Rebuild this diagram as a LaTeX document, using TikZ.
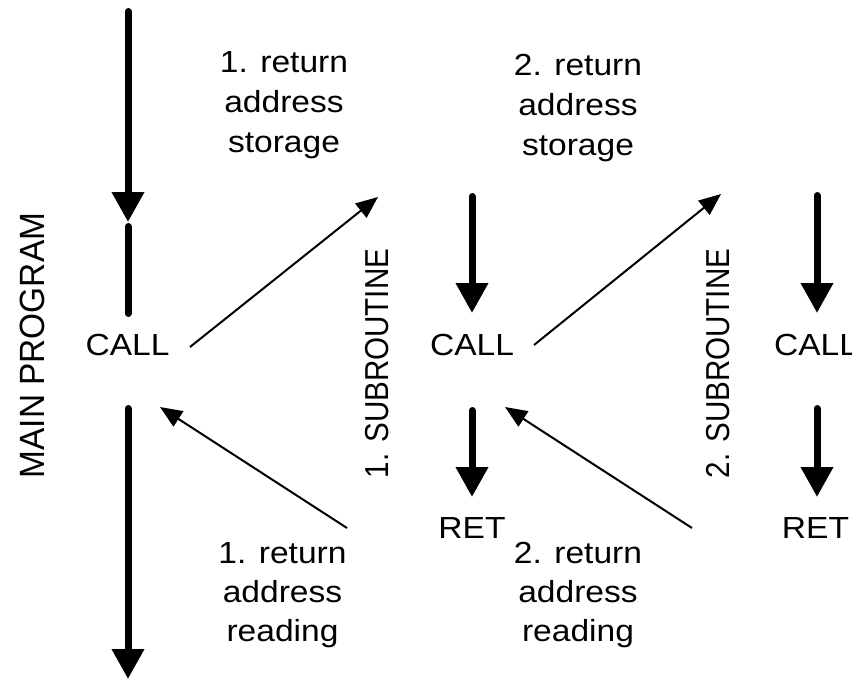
\documentclass[tikz,border=0pt]{standalone}
\usepackage{fontspec}
\setmainfont{Liberation Sans}
\usetikzlibrary{arrows.meta}
\begin{document}
\begin{tikzpicture}[x=1pt,y=-1pt,
  lbl/.style={inner sep=0pt, font=\fontsize{30.5}{40}\selectfont, xscale=1.1, anchor=base},
  note/.style={lbl, align=center},
  flow/.style={line width=7pt, line cap=round, -{Triangle[width=31pt,length=30pt]}},
  bar/.style={line width=7pt, line cap=round},
  link/.style={line width=2pt, -{Triangle[width=18pt,length=22pt]}},
]
\useasboundingbox[fill=white] (0,0) rectangle (852,680);

% vertical labels
\node[inner sep=0pt, font=\fontsize{33.4}{40}\selectfont, xscale=1.05, rotate=90] (main) at (32.5,345.5) {MAIN PROGRAM};
\node[inner sep=0pt, font=\fontsize{29.6}{40}\selectfont, xscale=1.12, rotate=90] (sub1) at (377,363.5) {1. SUBROUTINE};
\node[inner sep=0pt, font=\fontsize{29.6}{40}\selectfont, xscale=1.12, rotate=90] (sub2) at (718.5,363.5) {2. SUBROUTINE};

% instruction labels
\node[lbl] (call1) at (127.5,355) {CALL};
\node[lbl] (call2) at (472,355) {CALL};
\node[lbl] (call3) at (816,355) {CALL};
\node[lbl] (ret1) at (472,538) {RET};
\node[lbl] (ret2) at (815.5,538) {RET};

% explanatory notes
\node[note] (st1) at (284,152) {1. return\\address\\storage};
\node[note] (st2) at (578,155) {2. return\\address\\storage};
\node[note, font=\fontsize{30.5}{39}\selectfont] (rd1) at (282.5,641) {1. return\\address\\reading};
\node[note, font=\fontsize{30.5}{39}\selectfont] (rd2) at (578,641) {2. return\\address\\reading};

% flow of the main program
\coordinate (m0) at (128,11.5);
\coordinate (m1) at (128,222);
\coordinate (m2) at (128,226.5);
\coordinate (m3) at (128,313.5);
\coordinate (m4) at (128,408.5);
\coordinate (m5) at (128,679);
\draw[flow] (m0) -- (m1);
\draw[bar] (m2) -- (m3);
\draw[flow] (m4) -- (m5);

% flow of subroutine 1
\coordinate (a0) at (472,196.5);
\coordinate (a1) at (472,313);
\coordinate (a2) at (472,410.5);
\coordinate (a3) at (472,497);
\draw[flow] (a0) -- (a1);
\draw[flow] (a2) -- (a3);

% flow of subroutine 2
\coordinate (b0) at (817,195.5);
\coordinate (b1) at (817,313);
\coordinate (b2) at (817,408.5);
\coordinate (b3) at (817,497);
\draw[flow] (b0) -- (b1);
\draw[flow] (b2) -- (b3);

% return address storage / reading
\coordinate (s1a) at (190,347);
\coordinate (s1b) at (378,197);
\coordinate (r1a) at (347,528);
\coordinate (r1b) at (160,407);
\coordinate (s2a) at (534,345);
\coordinate (s2b) at (721,194);
\coordinate (r2a) at (692,528);
\coordinate (r2b) at (505,407);
\draw[link] (s1a) -- (s1b);
\draw[link] (r1a) -- (r1b);
\draw[link] (s2a) -- (s2b);
\draw[link] (r2a) -- (r2b);
\end{tikzpicture}
\end{document}
